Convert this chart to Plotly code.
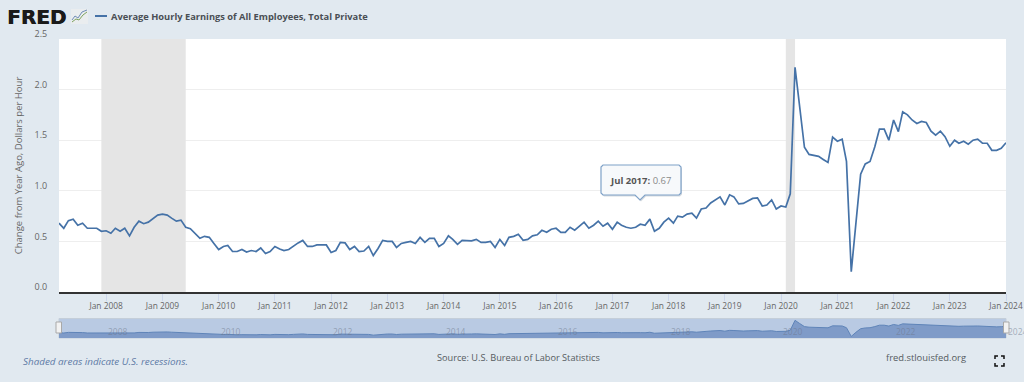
import pandas as pd
import plotly.graph_objects as go

# ---- data -----------------------------------------------------------
series_name = "Average Hourly Earnings of All Employees, Total Private"
y_title = "Change from Year Ago, Dollars per Hour"
start_month = "2007-03-01"
earnings_change = [
    .68,.63,.705,.72,.66,.68,.63,.63,.63,.60,.605,.58,.63,.60,.63,.555,.64,.70,.675,.69,
    .73,.76,.77,.76,.73,.70,.71,.64,.625,.58,.53,.55,.54,.48,.42,.45,.46,.40,.40,.42,
    .395,.41,.40,.435,.38,.40,.45,.425,.41,.42,.455,.485,.51,.45,.45,.465,.465,.465,.39,.41,
    .49,.485,.42,.45,.40,.405,.45,.36,.43,.51,.50,.50,.44,.48,.49,.50,.48,.54,.49,.53,
    .53,.45,.48,.555,.52,.47,.51,.505,.505,.52,.49,.49,.50,.44,.52,.46,.54,.55,.57,.51,
    .52,.555,.565,.61,.59,.62,.63,.59,.59,.64,.61,.65,.69,.63,.66,.70,.65,.68,.62,.69,
    .66,.64,.63,.64,.67,.66,.72,.60,.63,.69,.73,.68,.75,.74,.77,.78,.73,.82,.83,.88,
    .91,.94,.86,.96,.94,.87,.875,.90,.925,.93,.85,.86,.91,.82,.85,.84,.97,2.22,1.82,1.43,
    1.36,1.35,1.34,1.31,1.28,1.53,1.49,1.51,1.29,.20,.71,1.165,1.265,1.29,1.435,1.61,1.61,1.50,1.70,1.585,
    1.78,1.75,1.70,1.665,1.685,1.675,1.59,1.55,1.59,1.535,1.44,1.50,1.47,1.49,1.46,1.50,1.51,1.47,1.47,1.40,
    1.40,1.42,1.475,
]
months = pd.date_range(start_month, periods=len(earnings_change), freq="MS")
recessions = [("2007-12-01", "2009-06-01"), ("2020-02-01", "2020-04-01")]
nav_years = ["2008", "2010", "2012", "2014", "2016", "2018", "2020", "2022", "2024"]
tooltip_month = "2017-07-01"
tooltip_value = 0.67
footer_left = "Shaded areas indicate U.S. recessions."
footer_mid = "Source: U.S. Bureau of Labor Statistics"
footer_right = "fred.stlouisfed.org"

# ---- layout constants -------------------------------------------------
W, H = 1024, 382
L, R, T, B = 59, 1006, 39, 338          # outer plot box in pixels
MAIN_BOTTOM = 292
NAV_TOP, NAV_BOTTOM = 318.5, 338
BG = "#e1e9f0"
LINE = "#4572a7"
FONT = "Open Sans"


def px(x):
    return (x - L) / (R - L)


def py(y):
    return (B - y) / (B - T)


def poly(points, close=True):
    s = "M " + " L ".join(f"{px(x):.5f},{py(y):.5f}" for x, y in points)
    return s + (" Z" if close else "")


def paper_shape(points, close=True, **kw):
    return dict(type="path", xref="paper", yref="paper", path=poly(points, close), **kw)


fig = go.Figure()
fig.add_trace(go.Scatter(x=months, y=earnings_change, mode="lines", name=series_name,
                         line=dict(color=LINE, width=1.7), showlegend=False,
                         hovertemplate="%{x|%b %Y}: %{y:.2f}<extra></extra>"))
fig.add_trace(go.Scatter(x=months, y=earnings_change, mode="lines", name="navigator",
                         xaxis="x2", yaxis="y2", fill="tozeroy", fillcolor="#7f9bc8",
                         line=dict(color="#5f84b8", width=1), showlegend=False, hoverinfo="skip"))

shapes = []
# white main plot panel and navigator panel
shapes.append(dict(type="rect", xref="paper", yref="paper", x0=0, x1=1, y0=py(MAIN_BOTTOM), y1=1,
                   fillcolor="#ffffff", line_width=0, layer="below"))
shapes.append(dict(type="rect", xref="paper", yref="paper", x0=0, x1=1, y0=0, y1=py(NAV_TOP),
                   fillcolor="#b9cae3", line=dict(color="#c4ced9", width=1), layer="below"))
for a, b in recessions:
    shapes.append(dict(type="rect", xref="x", yref="y", x0=a, x1=b, y0=0, y1=2.5,
                       fillcolor="#e5e5e5", line_width=0, layer="between"))
# navigator handles
for x0, x1 in [(56, 61.5), (1003.5, 1009)]:
    shapes.append(dict(type="rect", xref="paper", yref="paper", x0=px(x0), x1=px(x1),
                       y0=py(333), y1=py(322), fillcolor="#f2f2f2",
                       line=dict(color="#a9a9a9", width=1)))
# legend key
shapes.append(paper_shape([(95, 16), (107, 16)], close=False, line=dict(color=LINE, width=2)))
# tooltip box with caret, and its soft shadow
box = [(603, 165), (679, 165), (681, 167), (681, 193), (679, 195), (645, 195), (640, 200),
       (635, 195), (603, 195), (601, 193), (601, 167)]
shapes.append(paper_shape([(x + 1, y + 1.5) for x, y in box], fillcolor="rgba(90,110,130,0.25)", line_width=0))
shapes.append(paper_shape(box, fillcolor="#f7f9fb", line=dict(color="#7fa2c8", width=1.2)))
# FRED icon
shapes.append(dict(type="rect", xref="paper", yref="paper", x0=px(71), x1=px(88), y0=py(24), y1=py(9),
                   fillcolor="#eaedef", line_width=0))
shapes.append(paper_shape([(72, 22), (76, 19), (79, 20), (83, 15), (87, 12)], close=False,
                          line=dict(color="#7fa35f", width=1)))
shapes.append(paper_shape([(72, 20), (75, 16), (78, 18), (82, 12), (87, 10)], close=False,
                          line=dict(color="#6f8cb5", width=1)))
# full-screen icon
for cx, cy, dx, dy in [(995, 356, 1, 1), (1004, 356, -1, 1), (995, 366, 1, -1), (1004, 366, -1, -1)]:
    shapes.append(paper_shape([(cx + 3 * dx, cy), (cx, cy), (cx, cy + 3 * dy)], close=False,
                              line=dict(color="#111", width=1.5)))

annotations = []


def note(text, x, y, size, color, anchor="left", family=FONT, **font_kw):
    annotations.append(dict(text=text, xref="paper", yref="paper", x=px(x), y=py(y), showarrow=False,
                            xanchor=anchor, yanchor="middle",
                            font=dict(family=family, size=size, color=color, **font_kw)))


note("<b>FRED</b>", 5, 17, 20, "#1a1a1a", family="DejaVu Sans", shadow="0.6px 0 0 #1a1a1a")
note("<b>" + series_name + "</b>", 109, 16.5, 9.3, "#4a4f55")
note("<i>" + footer_left + "</i>", 20.5, 360.5, 9.85, "#5d7aa6")
note(footer_mid, 435, 357, 9.2, "#555b60")
note(footer_right, 884, 357, 9.4, "#555b60")
annotations.append(dict(text=f"<b>Jul 2017:</b> <span style='color:#8a8a8a'>{tooltip_value:.2f}</span>",
                        x=tooltip_month, y=tooltip_value, xref="x", yref="y", yshift=44, showarrow=False,
                        font=dict(family=FONT, size=9.5, color="#555")))
for yr in nav_years:
    annotations.append(dict(text=yr, x=f"{yr}-01-01", y=0.85, xref="x2", yref="y2", xshift=12,
                            showarrow=False, font=dict(family=FONT, size=8.5, color="rgba(110,120,140,0.55)")))

height = B - T
fig.update_layout(
    width=W, height=H, margin=dict(l=L, r=W - R, t=T, b=H - B, pad=0),
    paper_bgcolor=BG, plot_bgcolor="rgba(0,0,0,0)", showlegend=False,
    font=dict(family=FONT, size=9, color="#666"),
    shapes=shapes, annotations=annotations,
    xaxis=dict(domain=[0, 1], anchor="y", range=[months[0], months[-1]], type="date", automargin=False,
               dtick="M12", tick0="2008-01-01", tickformat="%b %Y",
               ticks="outside", ticklen=7, tickcolor="#ccd6eb", tickwidth=1, ticklabelstandoff=-2,
               tickfont=dict(size=8.4, color="#666"), showgrid=False,
               showline=True, linecolor="#333", linewidth=2, zeroline=False),
    yaxis=dict(domain=[(B - MAIN_BOTTOM) / height, 1], anchor="x", range=[0, 2.5], dtick=0.5, automargin=False,
               tickformat=".1f", gridcolor="#eeeeee", gridwidth=1, zeroline=False,
               ticks="outside", ticklen=9, tickcolor="rgba(0,0,0,0)",
               ticklabelposition="outside", ticklabelshift=-5, ticklabelstandoff=0,
               tickfont=dict(size=9, color="#666"),
               title=dict(text=y_title, standoff=10, font=dict(size=9.5, color="#666"))),
    xaxis2=dict(domain=[0, 1], anchor="y2", range=[months[0], months[-1]], type="date", automargin=False,
                showticklabels=False, ticks="", showgrid=False, showline=False, zeroline=False),
    yaxis2=dict(domain=[0, (B - NAV_TOP) / height], anchor="x2", range=[0, 2.45], automargin=False,
                showticklabels=False, ticks="", showgrid=False, showline=False, zeroline=False),
)

fig.write_html("out.html", config=dict(displayModeBar=False),
               post_script="document.body.style.margin='0';document.body.style.overflow='hidden';document.body.style.background='" + BG + "';")
